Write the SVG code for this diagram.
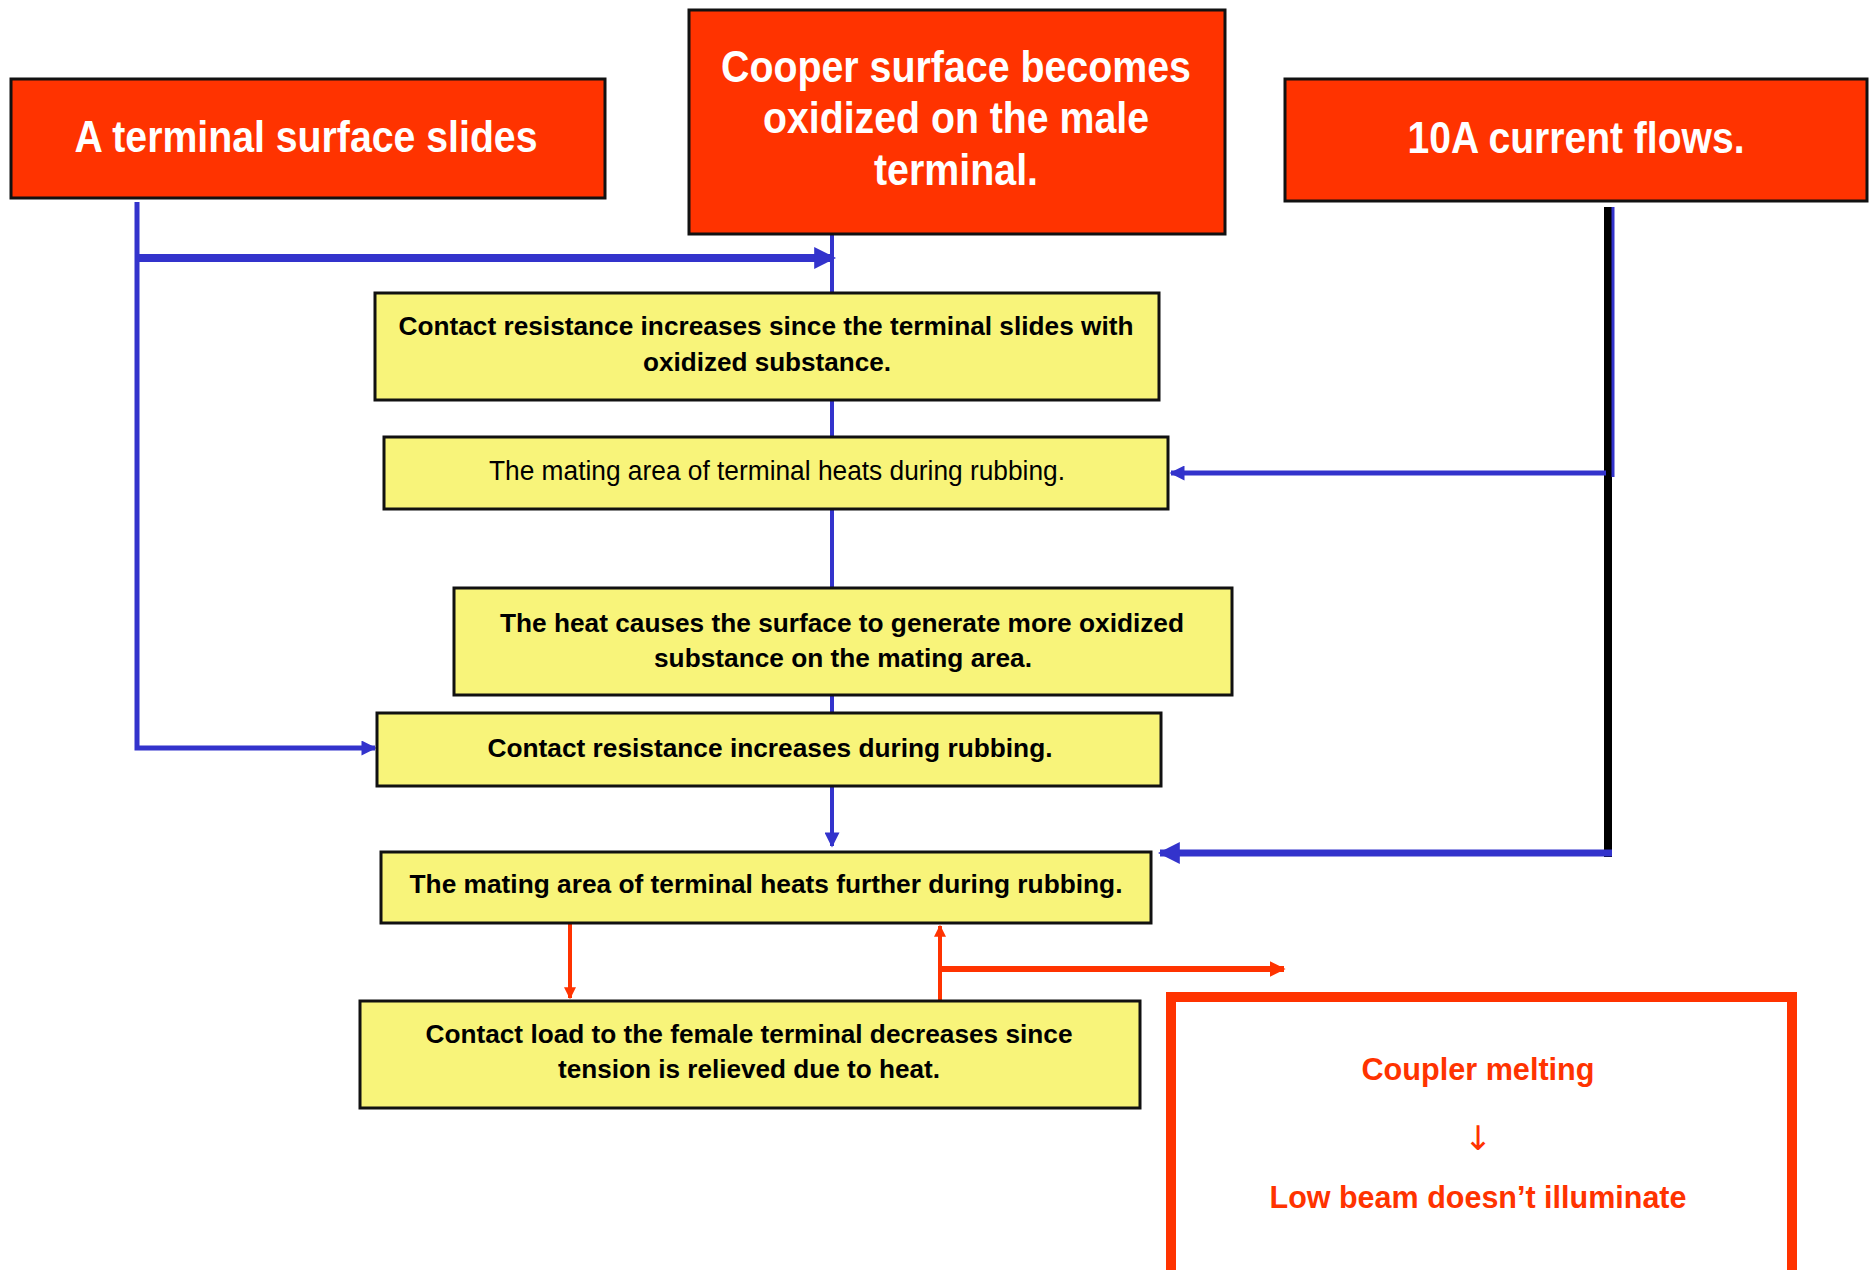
<svg xmlns="http://www.w3.org/2000/svg" width="1873" height="1270" viewBox="0 0 1873 1270">
  <style>
    .cause { fill: #FF3300; stroke: #111; stroke-width: 3; }
    .step { fill: #F8F47A; stroke: #111; stroke-width: 3; }
    .result { fill: none; stroke: #FF3300; stroke-width: 10; }
    .t-cause { font-family: "Liberation Sans Narrow", "Arial Narrow", "Liberation Sans", Arial, sans-serif; font-weight: bold; font-size: 44px; fill: #FFFFFF; text-anchor: middle; }
    .t-step { font-family: "Liberation Sans Narrow", "Arial Narrow", "Liberation Sans", Arial, sans-serif; font-weight: bold; font-size: 26px; fill: #000; text-anchor: middle; }
    .t-step-reg { font-family: "Liberation Sans Narrow", "Arial Narrow", "Liberation Sans", Arial, sans-serif; font-weight: normal; font-size: 27px; fill: #000; text-anchor: middle; }
    .t-result { font-family: "Liberation Sans Narrow", "Arial Narrow", "Liberation Sans", Arial, sans-serif; font-weight: bold; font-size: 32px; fill: #FF3300; text-anchor: middle; }
    .blue { fill: none; stroke: #3333CC; stroke-linecap: butt; }
    .red { fill: none; stroke: #FF3300; stroke-linecap: butt; }
  </style>
  <defs>
    <marker id="ahBlue" viewBox="0 0 10 10" refX="9" refY="5" markerUnits="userSpaceOnUse" markerWidth="16" markerHeight="15" orient="auto">
      <path d="M0,0 L10,5 L0,10 z" fill="#3333CC"/>
    </marker>
    <marker id="ahBlueLg" viewBox="0 0 10 10" refX="9" refY="5" markerUnits="userSpaceOnUse" markerWidth="22" markerHeight="23" orient="auto">
      <path d="M0,0 L10,5 L0,10 z" fill="#3333CC"/>
    </marker>
    <marker id="ahRed" viewBox="0 0 10 10" refX="9" refY="5" markerUnits="userSpaceOnUse" markerWidth="15" markerHeight="12" orient="auto">
      <path d="M0,0 L10,5 L0,10 z" fill="#FF3300"/>
    </marker>
    <marker id="ahRedLg" viewBox="0 0 10 10" refX="9" refY="5" markerUnits="userSpaceOnUse" markerWidth="16" markerHeight="17" orient="auto">
      <path d="M0,0 L10,5 L0,10 z" fill="#FF3300"/>
    </marker>
  </defs>

  <rect x="0" y="0" width="1873" height="1270" fill="#FFFFFF"/>

  <!-- connectors -->
  <g id="connectors">
    <!-- slide path on the left -->
    <path class="blue" stroke-width="5" d="M137,202 V748 H375" marker-end="url(#ahBlue)"/>
    <path class="blue" stroke-width="8" d="M137,258 H834" marker-end="url(#ahBlueLg)"/>
    <!-- main vertical chain -->
    <path class="blue" stroke-width="4" d="M832,234 V293"/>
    <path class="blue" stroke-width="4" d="M832,400 V437"/>
    <path class="blue" stroke-width="4" d="M832,509 V588"/>
    <path class="blue" stroke-width="4" d="M832,695 V713"/>
    <path class="blue" stroke-width="4" d="M832,786 V846" marker-end="url(#ahBlue)"/>
    <!-- current feed on the right -->
    <path fill="none" stroke="#000" stroke-width="8" d="M1608,207 V857"/>
    <path class="blue" stroke-width="3" d="M1613,207 V477"/>
    <path class="blue" stroke-width="5" d="M1606,473 H1171" marker-end="url(#ahBlue)"/>
    <path class="blue" stroke-width="7" d="M1612,853 H1160" marker-end="url(#ahBlueLg)"/>
    <!-- heat / load loop -->
    <path class="red" stroke-width="4" d="M570,923 V998" marker-end="url(#ahRed)"/>
    <path class="red" stroke-width="4" d="M940,1001 V926" marker-end="url(#ahRed)"/>
    <path class="red" stroke-width="6" d="M940,969 H1284" marker-end="url(#ahRedLg)"/>
  </g>

  <!-- causes -->
  <g id="cause-slide">
    <rect class="cause" x="11" y="79" width="594" height="119"/>
    <text class="t-cause" x="306" y="152" textLength="463" lengthAdjust="spacingAndGlyphs">A terminal surface slides</text>
  </g>
  <g id="cause-oxidized">
    <rect class="cause" x="689" y="10" width="536" height="224"/>
    <text class="t-cause" x="956" y="82" textLength="470" lengthAdjust="spacingAndGlyphs">Cooper surface becomes</text>
    <text class="t-cause" x="956" y="133" textLength="386" lengthAdjust="spacingAndGlyphs">oxidized on the male</text>
    <text class="t-cause" x="956" y="185" textLength="164" lengthAdjust="spacingAndGlyphs">terminal.</text>
  </g>
  <g id="cause-current">
    <rect class="cause" x="1285" y="79" width="582" height="122"/>
    <text class="t-cause" x="1576" y="153" textLength="337" lengthAdjust="spacingAndGlyphs">10A current flows.</text>
  </g>

  <!-- process steps -->
  <g id="step-resistance">
    <rect class="step" x="375" y="293" width="784" height="107"/>
    <text class="t-step" x="766" y="335" textLength="735" lengthAdjust="spacingAndGlyphs">Contact resistance increases since the terminal slides with</text>
    <text class="t-step" x="767" y="371" textLength="248" lengthAdjust="spacingAndGlyphs">oxidized substance.</text>
  </g>
  <g id="step-heats">
    <rect class="step" x="384" y="437" width="784" height="72"/>
    <text class="t-step-reg" x="777" y="480" textLength="576" lengthAdjust="spacingAndGlyphs">The mating area of terminal heats during rubbing.</text>
  </g>
  <g id="step-more-oxide">
    <rect class="step" x="454" y="588" width="778" height="107"/>
    <text class="t-step" x="842" y="632" textLength="684" lengthAdjust="spacingAndGlyphs">The heat causes the surface to generate more oxidized</text>
    <text class="t-step" x="843" y="667" textLength="378" lengthAdjust="spacingAndGlyphs">substance on the mating area.</text>
  </g>
  <g id="step-resistance-rubbing">
    <rect class="step" x="377" y="713" width="784" height="73"/>
    <text class="t-step" x="770" y="757" textLength="565" lengthAdjust="spacingAndGlyphs">Contact resistance increases during rubbing.</text>
  </g>
  <g id="step-heats-further">
    <rect class="step" x="381" y="852" width="770" height="71"/>
    <text class="t-step" x="766" y="893" textLength="713" lengthAdjust="spacingAndGlyphs">The mating area of terminal heats further during rubbing.</text>
  </g>
  <g id="step-contact-load">
    <rect class="step" x="360" y="1001" width="780" height="107"/>
    <text class="t-step" x="749" y="1043" textLength="647" lengthAdjust="spacingAndGlyphs">Contact load to the female terminal decreases since</text>
    <text class="t-step" x="749" y="1078" textLength="382" lengthAdjust="spacingAndGlyphs">tension is relieved due to heat.</text>
  </g>

  <!-- outcome -->
  <g id="outcome">
    <rect class="result" x="1171" y="997" width="621" height="300"/>
    <text class="t-result" x="1478" y="1080" textLength="233" lengthAdjust="spacingAndGlyphs">Coupler melting</text>
    <text x="1478" y="1150" font-family="'DejaVu Sans', sans-serif" font-size="34" fill="#FF3300" text-anchor="middle">↓</text>
    <text class="t-result" x="1478" y="1208" textLength="417" lengthAdjust="spacingAndGlyphs">Low beam doesn’t illuminate</text>
  </g>
</svg>
